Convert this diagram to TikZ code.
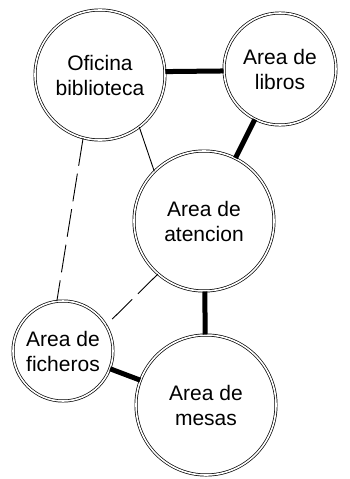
\documentclass[tikz,border=0pt]{standalone}
\usepackage{fontspec}
\setmainfont{Liberation Sans}
\usepackage{tikz}
\usetikzlibrary{positioning}
\tikzset{
  area/.style={
    circle, draw, double, line width=0.7pt, double distance=1.6pt,
    align=center, font=\fontsize{21}{25}\selectfont, inner sep=0pt
  },
  strongline/.style={line width=5pt},
  weakline/.style={line width=0.9pt},
  dashline/.style={line width=0.9pt, dash pattern=on 28pt off 8pt}
}
\begin{document}
\begin{tikzpicture}[x=1pt, y=-1pt]
  \useasboundingbox[fill=white] (0,0) rectangle (350,479);

  \node[area, minimum size=130pt] (ofi) at (100,75) {Oficina\\biblioteca};
  \node[area, minimum size=112pt] (lib) at (280,69) {Area de\\libros};
  \node[area, minimum size=140pt] (aten) at (204,221) {Area de\\atencion};
  \node[area, minimum size=100pt] (fich) at (63,351) {Area de\\ficheros};
  \node[area, minimum size=140pt] (mesas) at (206,405) {Area de\\mesas};

  % fuertes
  \draw[strongline] (ofi.3) -- (lib.182);
  \draw[strongline] (lib) -- (aten);
  \draw[strongline] (aten) -- (mesas);
  \draw[strongline] (fich) -- (mesas);

  % debiles
  \draw[weakline] (ofi.-53) -- (aten.135);
  \draw[dashline] (ofi.-105) -- (fich.97);
  \draw[dashline] (aten.-131) -- (fich.31);
\end{tikzpicture}
\end{document}
